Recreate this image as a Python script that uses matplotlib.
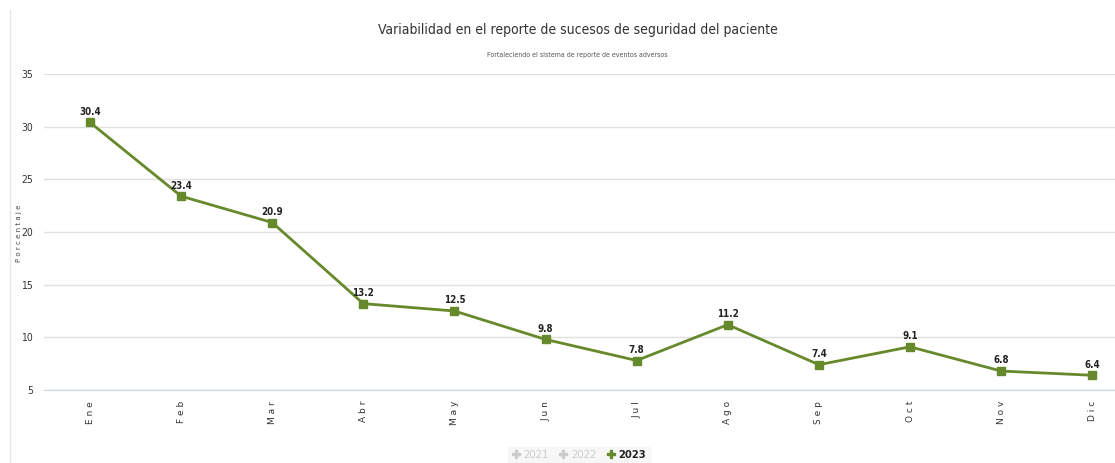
import matplotlib
matplotlib.use('Agg')
import matplotlib.pyplot as plt
from matplotlib.lines import Line2D

# data
months = ['Ene', 'Feb', 'Mar', 'Abr', 'May', 'Jun', 'Jul', 'Ago', 'Sep', 'Oct', 'Nov', 'Dic']
values_2023 = [30.4, 23.4, 20.9, 13.2, 12.5, 9.8, 7.8, 11.2, 7.4, 9.1, 6.8, 6.4]
legend_years = ['2021', '2022', '2023']
y_ticks = [5, 10, 15, 20, 25, 30, 35]

green = '#66892b'
cond = dict(family='DejaVu Sans', stretch='condensed')

fig = plt.figure(figsize=(11.15, 4.63), dpi=100)
ax = fig.add_axes([44/1115, 1-390/463, 1-44/1115, (390-74)/463])

x = list(range(len(months)))
ax.plot(x, values_2023, color=green, lw=2, marker='s', ms=5.5, zorder=3)
for xi, v in zip(x, values_2023):
    ax.annotate(f'{v}', (xi, v), xytext=(0, 4), textcoords='offset points',
                ha='center', va='bottom', fontsize=7, fontweight='bold',
                color='#222222', **cond)

ax.set_xlim(-0.505, 11.25)
ax.set_ylim(5, 35)
ax.set_yticks(y_ticks)
ax.set_yticklabels([str(t) for t in y_ticks], fontsize=7.5, color='#333333', **cond)
ax.set_xticks(x)
ax.set_xticklabels([' '.join(m) for m in months], rotation=90, fontsize=6.5,
                   color='#333333', va='top')
ax.tick_params(axis='both', length=0)
ax.tick_params(axis='y', pad=8)
ax.tick_params(axis='x', pad=8)
ax.grid(axis='y', color='#e0e0e0', lw=1)
ax.set_axisbelow(True)
for s in ['top', 'right', 'left']:
    ax.spines[s].set_visible(False)
ax.spines['bottom'].set_color('#ccd6eb')

ax.set_ylabel(' '.join('Porcentaje'), fontsize=5, color='#444444')
ax.yaxis.set_label_coords(-0.021, 0.497)

fig.text(0.518, 0.935, 'Variabilidad en el reporte de sucesos de seguridad del paciente',
         ha='center', va='center', fontsize=10, color='#333333', **cond)
fig.text(0.518, 0.882, 'Fortaleciendo el sistema de reporte de eventos adversos',
         ha='center', va='center', fontsize=5, color='#555555', **cond)

# left border line
fig.add_artist(Line2D([10/1115, 10/1115], [0, 1-10/463], color='#e6e6e6', lw=1))

handles = [
    Line2D([], [], ls='none', marker='P', ms=6, color='#cccccc'),
    Line2D([], [], ls='none', marker='P', ms=6, color='#cccccc'),
    Line2D([], [], ls='none', marker='P', ms=6, color=green),
]
leg = fig.legend(handles, legend_years, loc='center', bbox_to_anchor=(0.519, 0.017),
                 ncol=3, frameon=True, handlelength=0.8, handletextpad=0.3,
                 columnspacing=0.9, borderpad=0.3, fancybox=False,
                 prop={'family': 'DejaVu Sans', 'stretch': 'condensed', 'size': 8})
leg.get_frame().set_facecolor('#f5f5f5')
leg.get_frame().set_edgecolor('#f5f5f5')
texts = leg.get_texts()
texts[0].set_color('#cccccc')
texts[1].set_color('#cccccc')
texts[2].set_color('#222222')
texts[2].set_fontweight('bold')

fig.savefig('out.png', dpi=100)
